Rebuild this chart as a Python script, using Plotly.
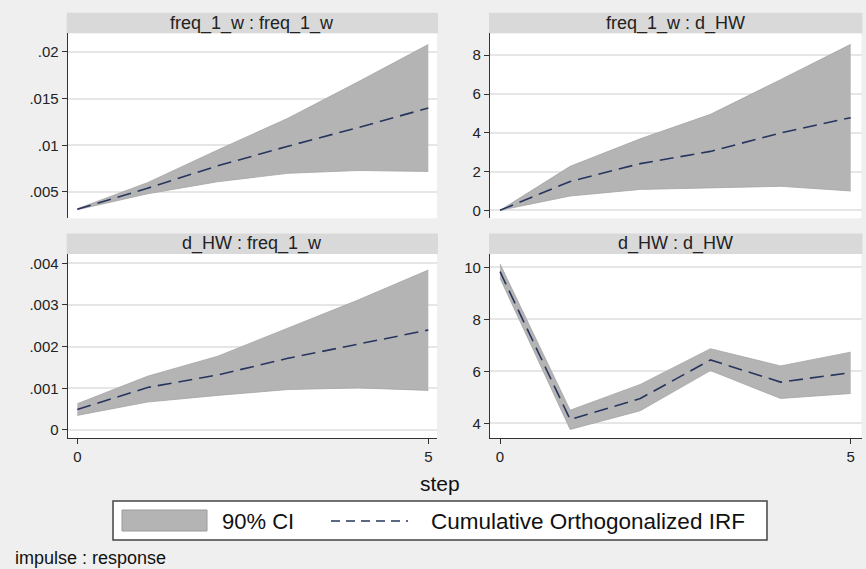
import plotly.graph_objects as go

# ---- data: cumulative orthogonalized IRFs with 90% CI (impulse : response) ----
steps = [0, 1, 2, 3, 4, 5]

# freq_1_w : freq_1_w
irf_ff = [0.00314, 0.0054, 0.0078, 0.0099, 0.0119, 0.0140]
lo_ff = [0.0031, 0.0048, 0.0061, 0.0070, 0.0073, 0.0072]
hi_ff = [0.0032, 0.0060, 0.0095, 0.0129, 0.0168, 0.0208]

# freq_1_w : d_HW
irf_fd = [0.0, 1.49, 2.41, 3.04, 3.99, 4.78]
lo_fd = [0.0, 0.74, 1.08, 1.15, 1.24, 1.00]
hi_fd = [0.0, 2.27, 3.69, 4.95, 6.74, 8.56]

# d_HW : freq_1_w
irf_df = [0.00049, 0.00102, 0.00132, 0.00172, 0.00206, 0.00240]
lo_df = [0.00035, 0.00067, 0.00083, 0.00097, 0.00101, 0.00095]
hi_df = [0.00063, 0.00129, 0.00177, 0.00244, 0.00312, 0.00384]

# d_HW : d_HW
irf_dd = [9.83, 4.15, 4.96, 6.44, 5.59, 5.95]
lo_dd = [9.58, 3.77, 4.49, 6.03, 4.96, 5.15]
hi_dd = [10.13, 4.51, 5.50, 6.87, 6.21, 6.74]

panel_titles = ["freq_1_w : freq_1_w", "freq_1_w : d_HW",
                "d_HW : freq_1_w", "d_HW : d_HW"]

yticks_ff = [0.005, 0.01, 0.015, 0.02]
ylabels_ff = [".005", ".01", ".015", ".02"]
yticks_fd = [0, 2, 4, 6, 8]
ylabels_fd = ["0", "2", "4", "6", "8"]
yticks_df = [0, 0.001, 0.002, 0.003, 0.004]
ylabels_df = ["0", ".001", ".002", ".003", ".004"]
yticks_dd = [4, 6, 8, 10]
ylabels_dd = ["4", "6", "8", "10"]
xticks = [0, 5]
xlabels = ["0", "5"]

ci_label = "90% CI"
irf_label = "Cumulative Orthogonalized IRF"

# ---- styling / geometry ----
W, H = 866, 569
BG = "#efefef"
STRIP = "#d9d9d9"
CI_FILL = "#b4b4b4"
CI_EDGE = "#a5a5a5"
IRF_COLOR = "#27355e"
AXIS = "#333333"
GRID = "#e6e6e6"
FONT = "Liberation Sans, Arial, sans-serif"


def px(x):
    return x / W


def py(y):
    return 1 - y / H


# plot-area pixel boxes (x0, x1, y0, y1) for each panel
boxes = [
    (67.7, 437.0, 33.3, 218.3),
    (490.0, 861.5, 33.3, 218.3),
    (67.7, 437.0, 254.0, 438.3),
    (490.0, 861.5, 254.0, 438.3),
]
strip_h = 20.5
xranges = [[-0.137, 5.124], [-0.143, 5.154], [-0.137, 5.124], [-0.143, 5.154]]
yranges = [[0.00218, 0.0220], [-0.41, 9.13], [-0.0002, 0.004224], [3.43, 10.51]]

panels = [
    (irf_ff, lo_ff, hi_ff, yticks_ff, ylabels_ff),
    (irf_fd, lo_fd, hi_fd, yticks_fd, ylabels_fd),
    (irf_df, lo_df, hi_df, yticks_df, ylabels_df),
    (irf_dd, lo_dd, hi_dd, yticks_dd, ylabels_dd),
]

fig = go.Figure()
layout = dict(
    width=W, height=H,
    margin=dict(l=0, r=0, t=0, b=0),
    paper_bgcolor=BG, plot_bgcolor="white",
    showlegend=False,
    font=dict(family=FONT, color="#222222"),
)
shapes = []
annotations = []

for i, (irf, lo, hi, yt, yl) in enumerate(panels):
    n = i + 1
    xa = "x" if n == 1 else f"x{n}"
    ya = "y" if n == 1 else f"y{n}"
    x0, x1, y0, y1 = boxes[i]
    bottom_row = i >= 2

    fig.add_trace(go.Scatter(x=steps, y=lo, xaxis=xa, yaxis=ya, mode="lines",
                             line=dict(color=CI_EDGE, width=0.8),
                             hoverinfo="skip"))
    fig.add_trace(go.Scatter(x=steps, y=hi, xaxis=xa, yaxis=ya, mode="lines",
                             line=dict(color=CI_EDGE, width=0.8),
                             fill="tonexty", fillcolor=CI_FILL, name=ci_label))
    fig.add_trace(go.Scatter(x=steps, y=irf, xaxis=xa, yaxis=ya, mode="lines",
                             line=dict(color=IRF_COLOR, width=1.6, dash="14px,7px"),
                             name=irf_label))

    xkey = "xaxis" if n == 1 else f"xaxis{n}"
    ykey = "yaxis" if n == 1 else f"yaxis{n}"
    layout[xkey] = dict(
        domain=[px(x0), px(x1)], range=xranges[i], anchor=ya,
        showgrid=False, zeroline=False,
        showline=bottom_row, linecolor=AXIS, linewidth=1.2,
        ticks="outside" if bottom_row else "", ticklen=5, tickcolor=AXIS,
        tickvals=xticks if bottom_row else [], ticktext=xlabels if bottom_row else [],
        showticklabels=bottom_row, tickfont=dict(size=15, family=FONT, color="#222222"),
    )
    layout[ykey] = dict(
        domain=[py(y1), py(y0)], range=yranges[i], anchor=xa,
        showgrid=True, gridcolor=GRID, gridwidth=1.5, zeroline=False,
        showline=True, linecolor=AXIS, linewidth=1.2,
        ticks="outside", ticklen=5, tickcolor=AXIS,
        tickvals=yt, ticktext=yl,
        tickfont=dict(size=15, family=FONT, color="#222222"),
    )

    # title strip above each panel
    shapes.append(dict(type="rect", xref="paper", yref="paper",
                       x0=px(x0 - 1), x1=px(x1 + 1), y0=py(y0), y1=py(y0 - strip_h),
                       fillcolor=STRIP, line=dict(width=0), layer="below"))
    annotations.append(dict(text=panel_titles[i], xref="paper", yref="paper",
                            x=px((x0 + x1) / 2), y=py(y0 - strip_h / 2),
                            xanchor="center", yanchor="middle", showarrow=False,
                            font=dict(size=18, family=FONT, color="#222222")))

# x-axis title
annotations.append(dict(text="step", xref="paper", yref="paper",
                        x=px(439.5), y=py(483), xanchor="center", yanchor="middle",
                        showarrow=False, font=dict(size=21, family=FONT, color="#111111")))

# legend box
shapes.append(dict(type="rect", xref="paper", yref="paper",
                   x0=px(113), x1=px(767), y0=py(540), y1=py(501),
                   fillcolor="white", line=dict(color="#444444", width=1.5)))
shapes.append(dict(type="rect", xref="paper", yref="paper",
                   x0=px(122), x1=px(207), y0=py(531), y1=py(510),
                   fillcolor=CI_FILL, line=dict(color="#9a9a9a", width=1)))
shapes.append(dict(type="line", xref="paper", yref="paper",
                   x0=px(331), x1=px(408), y0=py(521), y1=py(521),
                   line=dict(color=IRF_COLOR, width=1.6, dash="9px,6px")))
annotations.append(dict(text=ci_label, xref="paper", yref="paper",
                        x=px(220), y=py(521), xanchor="left", yanchor="middle",
                        showarrow=False, font=dict(size=22, family=FONT, color="#111111")))
annotations.append(dict(text=irf_label, xref="paper", yref="paper",
                        x=px(429), y=py(521), xanchor="left", yanchor="middle",
                        showarrow=False, font=dict(size=22.5, family=FONT, color="#111111")))

# note
annotations.append(dict(text="impulse : response", xref="paper", yref="paper",
                        x=px(13), y=py(558), xanchor="left", yanchor="middle",
                        showarrow=False, font=dict(size=18, family=FONT, color="#111111")))

layout["shapes"] = shapes
layout["annotations"] = annotations
fig.update_layout(**layout)

fig.write_html("out.html")
